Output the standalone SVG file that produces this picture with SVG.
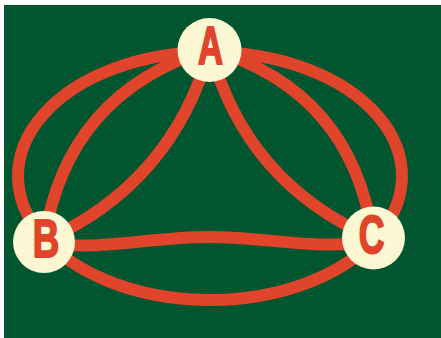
<svg xmlns="http://www.w3.org/2000/svg" width="441" height="338" viewBox="0 0 441 338">
<style>
.edge{fill:none;stroke:#E0442A;stroke-width:12;stroke-linecap:round}
.node circle{fill:#FCF7D3}
.node text{font-family:"Liberation Sans",Arial,sans-serif;font-weight:bold;font-size:54px;fill:#E0442A;stroke:#E0442A;stroke-width:2;stroke-linejoin:round;text-anchor:middle}
</style>
<rect x="0" y="0" width="441" height="338" fill="#ffffff"/>
<rect x="4" y="5" width="437" height="333" fill="#01552F"/>
<g id="connectors">
<path class="edge" d="M210 52 A192 124 0 0 0 44 238.3"/>
<path class="edge" d="M44 238.3 A192 124 0 0 0 373 241.5"/>
<path class="edge" d="M373 241.5 A192 124 0 0 0 210 52"/>
<path class="edge" d="M210 49 Q66.5 92.7 44 241"/>
<path class="edge" d="M210 49 Q352 91 373 238"/>
<path class="edge" d="M210 49 Q172 184 44 241"/>
<path class="edge" d="M210 49 Q246 183 373 238"/>
<path class="edge" d="M44 244 C110 250 150 237 209 237 S310 250 373 242"/>
</g>
<g id="node-A" class="node">
<circle cx="209.5" cy="50" r="32"/>
<text transform="translate(210.5 64) scale(0.64 1)">A</text>
</g>
<g id="node-B" class="node">
<circle cx="44" cy="242" r="31"/>
<text transform="translate(46 257) scale(0.68 1)">B</text>
</g>
<g id="node-C" class="node">
<circle cx="373.5" cy="238" r="31.5"/>
<text transform="translate(371.5 253) scale(0.66 1)">C</text>
</g>
</svg>
